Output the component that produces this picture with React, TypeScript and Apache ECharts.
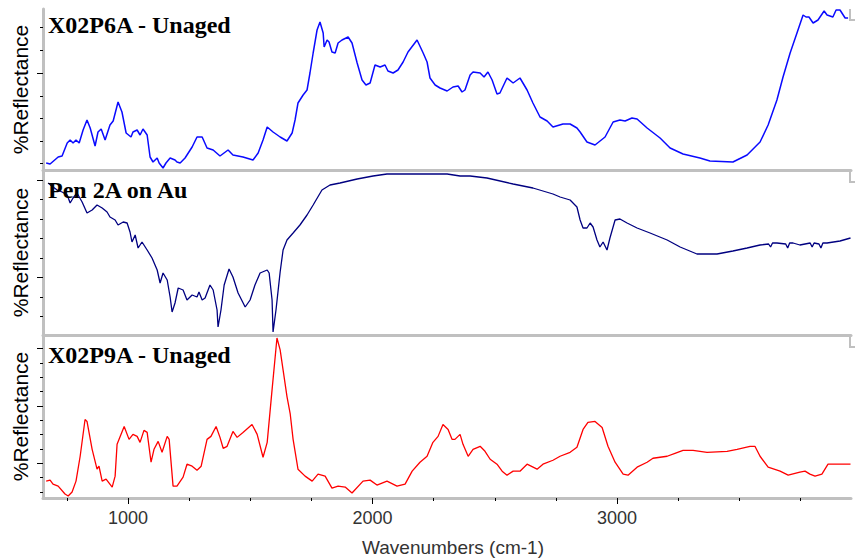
import React, { useEffect, useRef } from "react";
import * as echarts from "echarts";

// Wavenumber range (cm-1) and x tick values
const X_MIN = 652;
const X_MAX = 3957;
const xMajorTicks = [1000, 2000, 3000];
const xMinorTicks = [750, 1250, 1500, 1750, 2250, 2500, 2750, 3250, 3500, 3750];

// Panel titles
const panelTitles = ["X02P6A - Unaged", "Pen 2A on Au", "X02P9A - Unaged"];

// y ranges (relative %Reflectance, arbitrary units) and tick values
const yMax = [161, 165, 164];
const yMajorTicks = [[97], [155, 58], [151, 92, 35]];
const yMinorTicks = [
  [7, 29, 52, 74, 120, 143],
  [136, 116, 97, 77, 38, 19],
  [136, 121, 107, 78, 64, 49, 21, 6],
];

// Spectrum 1: X02P6A - Unaged  [wavenumber, reflectance]
const x02p6a: [number, number][] = [
  [665, 7], [681, 6], [714, 13], [730, 14], [751, 27], [763, 30], [775, 27], [787, 30], [800, 27],
  [816, 40], [832, 50], [845, 42], [865, 24], [877, 38], [890, 41], [906, 30], [926, 45], [939, 49],
  [959, 68], [975, 58], [992, 37], [1012, 33], [1020, 38], [1037, 40], [1049, 35], [1061, 41],
  [1078, 35], [1090, 13], [1102, 8], [1119, 12], [1127, 7], [1143, 2], [1155, 7], [1172, 12],
  [1192, 10], [1200, 8], [1213, 7], [1233, 12], [1262, 23], [1282, 33], [1303, 33], [1323, 22],
  [1348, 20], [1376, 14], [1409, 20], [1429, 15], [1470, 13], [1511, 10], [1532, 17], [1552, 30],
  [1569, 43], [1593, 38], [1622, 33], [1650, 29], [1671, 37], [1683, 50], [1695, 67], [1716, 75],
  [1732, 80], [1744, 97], [1757, 117], [1773, 140], [1785, 148], [1798, 137], [1802, 123],
  [1814, 130], [1822, 128], [1834, 118], [1847, 117], [1859, 127], [1875, 130], [1900, 133],
  [1916, 127], [1937, 107], [1957, 90], [1973, 85], [1990, 87], [2010, 105], [2031, 103],
  [2051, 105], [2063, 99], [2084, 97], [2104, 100], [2125, 108], [2145, 118], [2182, 130],
  [2207, 117], [2223, 108], [2235, 92], [2256, 85], [2276, 82], [2305, 79], [2329, 83], [2350, 84],
  [2366, 78], [2378, 80], [2399, 95], [2411, 98], [2440, 97], [2456, 93], [2472, 98], [2489, 90],
  [2509, 76], [2521, 77], [2550, 92], [2575, 87], [2603, 92], [2632, 80], [2656, 67], [2685, 53],
  [2714, 49], [2738, 43], [2779, 46], [2808, 46], [2836, 42], [2849, 38], [2877, 28], [2910, 25],
  [2951, 33], [2984, 48], [3012, 50], [3033, 49], [3061, 52], [3082, 51], [3123, 42], [3176, 32],
  [3217, 22], [3270, 16], [3339, 12], [3380, 9], [3474, 8], [3532, 15], [3585, 28], [3618, 45],
  [3654, 70], [3679, 93], [3708, 117], [3736, 137], [3761, 155], [3773, 153], [3785, 153],
  [3802, 147], [3822, 150], [3847, 159], [3859, 155], [3883, 153], [3896, 160], [3912, 160],
  [3933, 152], [3945, 152],
];

// Spectrum 2: Pen 2A on Au
const pen2aOnAu: [number, number][] = [
  [673, 152], [693, 148], [710, 145], [730, 143], [751, 140], [763, 132], [775, 137], [791, 142],
  [812, 133], [832, 122], [853, 125], [873, 130], [894, 127], [914, 123], [926, 118], [947, 115],
  [959, 110], [980, 113], [996, 112], [1008, 103], [1016, 93], [1029, 100], [1041, 87], [1057, 93],
  [1078, 85], [1098, 77], [1119, 65], [1131, 52], [1143, 62], [1160, 55], [1172, 38], [1180, 23],
  [1192, 32], [1205, 47], [1225, 45], [1241, 35], [1262, 40], [1282, 38], [1290, 43], [1303, 35],
  [1315, 37], [1335, 50], [1348, 45], [1364, 25], [1368, 8], [1380, 25], [1393, 50], [1413, 66],
  [1429, 58], [1450, 42], [1479, 28], [1499, 35], [1519, 50], [1540, 62], [1569, 65], [1577, 62],
  [1589, 35], [1593, 3], [1605, 25], [1622, 63], [1634, 85], [1650, 95], [1675, 102], [1703, 110],
  [1732, 120], [1757, 130], [1793, 145], [1826, 150], [1867, 152], [1937, 156], [2002, 159],
  [2059, 161], [2305, 161], [2358, 159], [2399, 159], [2468, 157], [2575, 151], [2656, 147],
  [2738, 141], [2767, 138], [2808, 135], [2836, 128], [2849, 115], [2861, 107], [2877, 107],
  [2890, 112], [2902, 108], [2918, 95], [2930, 88], [2943, 93], [2959, 85], [2971, 97],
  [2992, 115], [3012, 116], [3041, 112], [3082, 107], [3135, 102], [3205, 95], [3258, 88],
  [3327, 81], [3409, 81], [3474, 84], [3532, 87], [3585, 90], [3620, 91], [3628, 88], [3636, 92],
  [3654, 92], [3690, 91], [3698, 87], [3706, 92], [3720, 92], [3748, 90], [3790, 92], [3798, 88],
  [3806, 92], [3826, 91], [3834, 87], [3842, 92], [3859, 92], [3912, 94], [3955, 97],
];

// Spectrum 3: X02P9A - Unaged
const x02p9a: [number, number][] = [
  [665, 17], [681, 18], [693, 14], [714, 12], [742, 4], [755, 2], [771, 6], [787, 17], [804, 42],
  [824, 79], [832, 77], [853, 49], [873, 29], [881, 32], [894, 17], [910, 19], [935, 11], [947, 22],
  [955, 54], [984, 72], [1004, 59], [1020, 64], [1037, 62], [1049, 56], [1065, 68], [1078, 66],
  [1094, 36], [1106, 49], [1123, 57], [1139, 46], [1160, 62], [1168, 59], [1184, 12], [1200, 12],
  [1225, 21], [1241, 34], [1262, 32], [1282, 28], [1299, 32], [1323, 59], [1339, 62], [1360, 72],
  [1376, 61], [1389, 50], [1405, 52], [1429, 67], [1446, 61], [1470, 66], [1507, 74], [1528, 64],
  [1552, 41], [1569, 56], [1589, 109], [1609, 161], [1622, 149], [1634, 129], [1650, 102],
  [1663, 85], [1675, 59], [1695, 29], [1724, 22], [1753, 17], [1777, 24], [1806, 22], [1834, 10],
  [1859, 12], [1888, 11], [1916, 5], [1961, 17], [1990, 18], [2018, 13], [2059, 17], [2100, 12],
  [2133, 14], [2162, 27], [2194, 36], [2223, 42], [2247, 56], [2268, 62], [2288, 74], [2309, 69],
  [2325, 59], [2337, 59], [2358, 64], [2370, 54], [2391, 42], [2411, 49], [2440, 52], [2460, 47],
  [2481, 39], [2509, 34], [2530, 27], [2550, 23], [2575, 27], [2603, 27], [2632, 34], [2673, 29],
  [2697, 34], [2738, 38], [2767, 42], [2808, 46], [2836, 51], [2861, 69], [2881, 76], [2910, 77],
  [2939, 71], [2963, 52], [2992, 36], [3025, 24], [3045, 23], [3082, 31], [3123, 36], [3147, 40],
  [3205, 42], [3237, 45], [3270, 48], [3311, 48], [3368, 46], [3450, 47], [3491, 49], [3544, 52],
  [3564, 52], [3585, 42], [3618, 31], [3667, 27], [3700, 23], [3748, 26], [3769, 27], [3789, 24],
  [3810, 22], [3838, 24], [3863, 34], [3912, 34], [3955, 34],
];

const seriesData = [x02p6a, pen2aOnAu, x02p9a];
const seriesColors = ["#0a0aff", "#000080", "#ff0000"];
const seriesWidths = [1.5, 1.3, 1.3];

const GRID_TOPS = [9, 170, 335];
const GRID_HEIGHTS = [161, 165, 164];
const GREY = "#c0c0c0";

export default function App() {
  const ref = useRef<HTMLDivElement>(null);

  useEffect(() => {
    if (!ref.current) return;
    const chart = echarts.init(ref.current, undefined, { renderer: "svg" });

    const grids = GRID_TOPS.map((top, i) => ({
      left: 43,
      top,
      width: 808,
      height: GRID_HEIGHTS[i],
      containLabel: false,
    }));

    const hiddenX = (gridIndex: number) => ({
      type: "value",
      gridIndex,
      min: X_MIN,
      max: X_MAX,
      axisLine: { show: true, onZero: false, lineStyle: { color: GREY, width: 3 } },
      axisTick: { show: false },
      axisLabel: { show: false },
      splitLine: { show: false },
    });

    const xAxes: any[] = [
      hiddenX(0),
      hiddenX(1),
      {
        type: "value",
        gridIndex: 2,
        min: X_MIN,
        max: X_MAX,
        axisLine: { show: true, onZero: false, lineStyle: { color: GREY, width: 3 } },
        axisTick: { show: true, customValues: xMinorTicks, length: 3, lineStyle: { color: "#000", width: 1 } },
        axisLabel: { show: false },
        splitLine: { show: false },
      },
      {
        type: "value",
        gridIndex: 2,
        min: X_MIN,
        max: X_MAX,
        position: "bottom",
        name: "Wavenumbers (cm-1)",
        nameLocation: "middle",
        nameGap: 40,
        nameTextStyle: { fontFamily: "Liberation Sans", fontSize: 19, color: "#333", padding: [0, 0, 0, 12] },
        axisLine: { show: false, onZero: false },
        axisTick: { show: true, customValues: xMajorTicks, length: 6, lineStyle: { color: "#000", width: 1 } },
        axisLabel: {
          show: true,
          customValues: xMajorTicks,
          margin: 11,
          fontFamily: "Liberation Sans",
          fontSize: 18,
          color: "#333",
          formatter: (v: number) => String(v),
        },
        splitLine: { show: false },
      },
    ];

    const yAxes: any[] = [];
    for (let i = 0; i < 3; i++) {
      yAxes.push({
        type: "value",
        gridIndex: i,
        min: 0,
        max: yMax[i],
        name: "%Reflectance",
        nameLocation: "middle",
        nameGap: 12,
        nameTextStyle: { fontFamily: "Liberation Sans", fontSize: 21, color: "#000" },
        axisLine: { show: true, onZero: false, lineStyle: { color: GREY, width: 3 } },
        axisTick: { show: true, customValues: yMinorTicks[i], length: 3, lineStyle: { color: "#000", width: 1 } },
        axisLabel: { show: false },
        splitLine: { show: false },
      });
      yAxes.push({
        type: "value",
        gridIndex: i,
        min: 0,
        max: yMax[i],
        position: "left",
        axisLine: { show: false, onZero: false },
        axisTick: { show: true, customValues: yMajorTicks[i], length: 6, lineStyle: { color: "#000", width: 1 } },
        axisLabel: { show: false },
        splitLine: { show: false },
      });
    }

    const titleTops = [13, 178, 343];
    const titles = panelTitles.map((text, i) => ({
      text,
      left: 48,
      top: titleTops[i],
      padding: 0,
      textStyle: { fontFamily: "Liberation Serif", fontWeight: "bold", fontSize: 24, color: "#000" },
    }));

    const series = seriesData.map((data, i) => ({
      type: "line",
      xAxisIndex: i === 2 ? 2 : i,
      yAxisIndex: i * 2,
      data,
      showSymbol: false,
      symbol: "none",
      lineStyle: { color: seriesColors[i], width: seriesWidths[i] },
      z: 1,
    }));

    const bracket = (y: number, h: number) => ({
      type: "polyline",
      shape: { points: [[850, y], [850, y + h], [855, y + h]] },
      style: { stroke: GREY, lineWidth: 2, fill: "none" },
    });

    chart.setOption({
      animation: false,
      backgroundColor: "#fff",
      title: titles,
      grid: grids,
      xAxis: xAxes,
      yAxis: yAxes,
      series,
      graphic: [bracket(9, 11), bracket(170, 12), bracket(335, 12)],
    });

    return () => chart.dispose();
  }, []);

  return (
    <div
      ref={ref}
      style={{ position: "fixed", left: 0, top: 0, width: 855, height: 558, background: "#fff" }}
    />
  );
}
